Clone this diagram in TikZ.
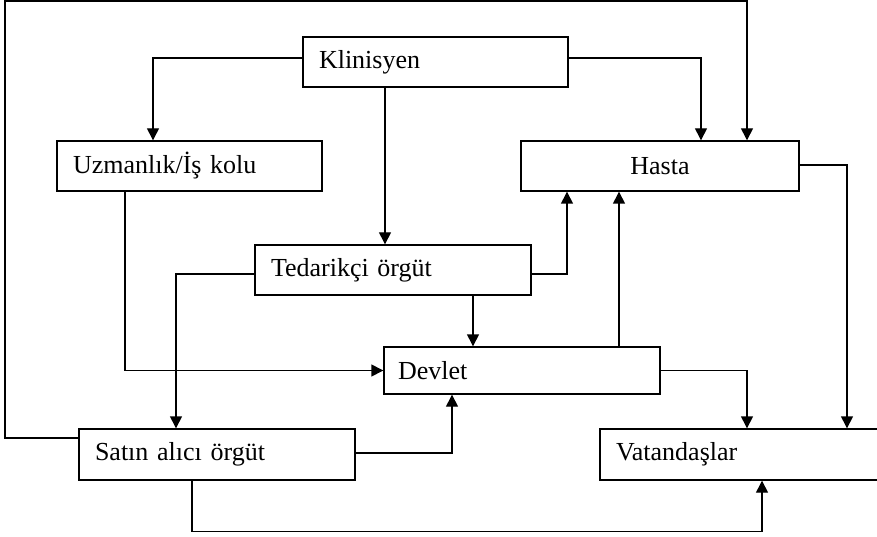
\documentclass[tikz,border=0pt]{standalone}
\usepackage{fontspec}
\setmainfont{Liberation Serif}
\usetikzlibrary{arrows.meta}
\begin{document}
\begin{tikzpicture}[x=1pt,y=-1pt,
  box/.style={draw, line width=1.4pt, minimum height=50pt, inner ysep=0pt,
    inner xsep=16pt, align=left, font=\fontsize{26}{30}\selectfont},
  arr/.style={line width=1.4pt, -{Triangle[length=12pt,width=12pt]}}]
\useasboundingbox (0,0) rectangle (877,537);

% boxes
\node[box, text width=233pt] (kl) at (435.5,62) {Klinisyen};
\node[box, text width=233pt] (uz) at (189.5,166) {Uzmanlık/İş kolu};
\node[box, text width=246pt, align=center] (ha) at (660,166) {Hasta};
\node[box, text width=244pt] (te) at (393,270) {Tedarikçi örgüt};
\node[box, text width=248pt, inner xsep=14pt, minimum height=47pt] (dv) at (522,370.5) {Devlet};
\node[box, text width=244pt, minimum height=51pt] (sa) at (217,454.5) {Satın alıcı örgüt};
\node[box, text width=262pt, minimum height=51pt] (va) at (747,454.5) {Vatandaşlar};

% corner of the outer loop
\coordinate (loop) at (5,1);

% connectors
\draw[arr] ([yshift=4pt]kl.west) -| ([xshift=-36.5pt]uz.north);
\draw[arr] ([yshift=4pt]kl.east) -| ([xshift=41pt]ha.north);
\draw[arr] ([xshift=-50.5pt]kl.south) -- ([xshift=-50.5pt]kl.south |- te.north);
\draw[arr] ([xshift=-64.5pt]uz.south) |- (dv.west);
\draw[arr] ([yshift=-4pt]te.west) -| ([xshift=-41pt]sa.north);
\draw[arr] ([yshift=-4pt]te.east) -| ([xshift=-93pt]ha.south);
\draw[arr] ([xshift=80pt]te.south) -- ([xshift=80pt]te.south |- dv.north);
\draw[arr] ([xshift=97pt]dv.north) -- ([xshift=97pt]dv.north |- ha.south);
\draw[arr] ([yshift=1pt]ha.east) -| ([xshift=100pt]va.north);
\draw[arr] (dv.east) -| (va.north);
\draw[arr] ([yshift=1.5pt]sa.east) -| ([xshift=-70pt]dv.south);
\draw[arr] ([xshift=-25pt]sa.south) -- ([xshift=-25pt,yshift=-51pt]sa.south) -| ([xshift=15pt]va.south);
\draw[arr] ([yshift=16.5pt]sa.west) -| (loop) -| ([xshift=87pt]ha.north);
\end{tikzpicture}
\end{document}
